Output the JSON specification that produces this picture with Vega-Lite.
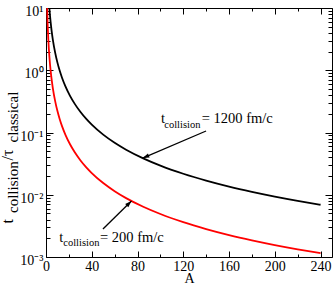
{
  "$schema": "https://vega.github.io/schema/vega-lite/v6.json",
  "width": 286,
  "height": 249,
  "autosize": {"type": "none"},
  "padding": {"left": 46, "top": 8, "right": 1, "bottom": 28},
  "background": "white",
  "config": {
    "view": {"stroke": null},
    "font": "Liberation Serif",
    "axis": {
      "grid": false,
      "domainColor": "black",
      "domainWidth": 1,
      "tickColor": "black",
      "tickWidth": 1,
      "labelColor": "black",
      "titleColor": "black",
      "labelFont": "Liberation Serif",
      "titleFont": "Liberation Serif",
      "titleFontWeight": "normal",
      "labelFlush": false,
      "labelOverlap": false
    }
  },
  "datasets": {
    "curves": [
      {"A": 1, "v": 59.7, "series": "1200"},
      {"A": 1.5, "v": 30.5, "series": "1200"},
      {"A": 2, "v": 19.0, "series": "1200"},
      {"A": 2.5, "v": 13.1, "series": "1200"},
      {"A": 3, "v": 9.71, "series": "1200"},
      {"A": 4, "v": 6.03, "series": "1200"},
      {"A": 5, "v": 4.17, "series": "1200"},
      {"A": 6, "v": 3.08, "series": "1200"},
      {"A": 8, "v": 1.917, "series": "1200"},
      {"A": 10, "v": 1.325, "series": "1200"},
      {"A": 12, "v": 0.98, "series": "1200"},
      {"A": 14, "v": 0.759, "series": "1200"},
      {"A": 17, "v": 0.551, "series": "1200"},
      {"A": 21, "v": 0.388, "series": "1200"},
      {"A": 25, "v": 0.291, "series": "1200"},
      {"A": 30, "v": 0.2153, "series": "1200"},
      {"A": 35, "v": 0.1669, "series": "1200"},
      {"A": 40, "v": 0.1338, "series": "1200"},
      {"A": 50, "v": 0.0925, "series": "1200"},
      {"A": 60, "v": 0.0684, "series": "1200"},
      {"A": 70, "v": 0.053, "series": "1200"},
      {"A": 85, "v": 0.03846, "series": "1200"},
      {"A": 100, "v": 0.02939, "series": "1200"},
      {"A": 120, "v": 0.02175, "series": "1200"},
      {"A": 140, "v": 0.01685, "series": "1200"},
      {"A": 160, "v": 0.0135, "series": "1200"},
      {"A": 180, "v": 0.01112, "series": "1200"},
      {"A": 200, "v": 0.00934, "series": "1200"},
      {"A": 220, "v": 0.00798, "series": "1200"},
      {"A": 240, "v": 0.00691, "series": "1200"},
      {"A": 1, "v": 9.95, "series": "200"},
      {"A": 1.5, "v": 5.08, "series": "200"},
      {"A": 2, "v": 3.17, "series": "200"},
      {"A": 2.5, "v": 2.18, "series": "200"},
      {"A": 3, "v": 1.62, "series": "200"},
      {"A": 4, "v": 1.005, "series": "200"},
      {"A": 5, "v": 0.695, "series": "200"},
      {"A": 6, "v": 0.513, "series": "200"},
      {"A": 8, "v": 0.3195, "series": "200"},
      {"A": 10, "v": 0.2208, "series": "200"},
      {"A": 12, "v": 0.1633, "series": "200"},
      {"A": 14, "v": 0.1265, "series": "200"},
      {"A": 17, "v": 0.0918, "series": "200"},
      {"A": 21, "v": 0.0647, "series": "200"},
      {"A": 25, "v": 0.0485, "series": "200"},
      {"A": 30, "v": 0.0359, "series": "200"},
      {"A": 35, "v": 0.0278, "series": "200"},
      {"A": 40, "v": 0.0223, "series": "200"},
      {"A": 50, "v": 0.0154, "series": "200"},
      {"A": 60, "v": 0.0114, "series": "200"},
      {"A": 70, "v": 0.00883, "series": "200"},
      {"A": 85, "v": 0.00641, "series": "200"},
      {"A": 100, "v": 0.0049, "series": "200"},
      {"A": 120, "v": 0.003625, "series": "200"},
      {"A": 140, "v": 0.00281, "series": "200"},
      {"A": 160, "v": 0.00225, "series": "200"},
      {"A": 180, "v": 0.001853, "series": "200"},
      {"A": 200, "v": 0.001557, "series": "200"},
      {"A": 220, "v": 0.00133, "series": "200"},
      {"A": 240, "v": 0.001152, "series": "200"}
    ],
    "arrows": [
      {"arrow": "1200", "A": 139.9, "v": 0.1057, "A2": 84.5, "v2": 0.0388},
      {"arrow": "200", "A": 49.8, "v": 0.00282, "A2": 74.7, "v2": 0.00795}
    ],
    "tips": [
      {"arrow": "1200", "A": 84.5, "v": 0.0388},
      {"arrow": "200", "A": 74.7, "v": 0.00795}
    ],
    "mainText": [
      {"A": 100.5, "v": 0.1437, "label": "t"},
      {"A": 136.1, "v": 0.1437, "label": "= 1200 fm/c"},
      {"A": 11.6, "v": 0.00176, "label": "t"},
      {"A": 47.2, "v": 0.00176, "label": "= 200 fm/c"}
    ],
    "subText": [
      {"A": 103.4, "v": 0.1168, "label": "collision"},
      {"A": 15.1, "v": 0.0015, "label": "collision"}
    ]
  },
  "resolve": {"axis": {"x": "independent", "y": "independent"}},
  "layer": [
    {
      "data": {"name": "curves"},
      "transform": [{"filter": "datum.series == '1200'"}],
      "mark": {"type": "line", "color": "black", "strokeWidth": 1.8, "clip": true, "interpolate": "monotone"},
      "encoding": {
        "x": {"field": "A", "type": "quantitative",
          "scale": {"type": "linear", "domain": [0, 250], "nice": false, "zero": false},
          "axis": {"orient": "bottom", "values": [0, 40, 80, 120, 160, 200, 240], "ticks": false, "domain": true,
            "labelFontSize": 14, "labelBaseline": "alphabetic", "labelPadding": 13.5,
            "title": "A", "titleFontSize": 14, "titleBaseline": "alphabetic", "titleX": 143, "titleY": 25.5, "titleAlign": "center"}},
        "y": {"field": "v", "type": "quantitative",
          "scale": {"type": "log", "domain": [0.001, 10], "nice": false},
          "axis": {"orient": "left", "values": [0.001, 0.01, 0.1, 1, 10], "ticks": false, "domain": true,
            "labelExpr": "datum.value > 5 ? '10¹' : datum.value > 0.5 ? '10⁰' : datum.value > 0.05 ? '10⁻¹' : datum.value > 0.005 ? '10⁻²' : '10⁻³'",
            "labelFontSize": 14, "labelBaseline": "alphabetic", "labelOffset": 7.5, "labelPadding": 3, "labelAlign": "right",
            "title": "t", "titleFontSize": 16, "titleAngle": 270, "titleAlign": "left", "titleBaseline": "alphabetic", "titleX": -34, "titleY": 215}}
      }
    },
    {
      "data": {"name": "curves"},
      "transform": [{"filter": "datum.series == '200'"}],
      "mark": {"type": "line", "color": "#ff0000", "strokeWidth": 1.8, "clip": true, "interpolate": "monotone"},
      "encoding": {
        "x": {"field": "A", "type": "quantitative",
          "axis": {"orient": "bottom", "values": [0, 40, 80, 120, 160, 200, 240], "tickSize": -6, "labels": false, "domain": false, "title": null}},
        "y": {"field": "v", "type": "quantitative",
          "axis": {"orient": "left", "values": [0.001, 0.01, 0.1, 1, 10], "tickSize": -7, "labels": false, "domain": false,
            "title": "collision", "titleFontSize": 15, "titleAngle": 270, "titleAlign": "left", "titleBaseline": "alphabetic", "titleX": -29, "titleY": 204.5}}
      }
    },
    {
      "data": {"name": "arrows"},
      "mark": {"type": "rule", "color": "black", "strokeWidth": 1.3},
      "encoding": {
        "x": {"field": "A", "type": "quantitative",
          "axis": {"orient": "top", "values": [0, 40, 80, 120, 160, 200, 240], "tickSize": -6, "labels": false, "domain": true, "title": null}},
        "y": {"field": "v", "type": "quantitative",
          "axis": {"orient": "left", "values": [0.002, 0.003, 0.004, 0.005, 0.006, 0.007, 0.008, 0.009, 0.02, 0.03, 0.04, 0.05, 0.06, 0.07, 0.08, 0.09, 0.2, 0.3, 0.4, 0.5, 0.6, 0.7, 0.8, 0.9, 2, 3, 4, 5, 6, 7, 8, 9],
            "tickSize": -4, "labels": false, "domain": false,
            "title": "/τ", "titleFontSize": 16, "titleAngle": 270, "titleAlign": "left", "titleBaseline": "alphabetic", "titleX": -34, "titleY": 152}},
        "x2": {"field": "A2"},
        "y2": {"field": "v2"}
      }
    },
    {
      "data": {"name": "tips"},
      "transform": [{"filter": "datum.arrow == '1200'"}],
      "mark": {"type": "point", "shape": "M0,0L0.6,1.8L-0.6,1.8Z", "size": 55, "angle": 247, "filled": true, "color": "black", "opacity": 1},
      "encoding": {
        "x": {"field": "A", "type": "quantitative",
          "axis": {"orient": "top", "values": [20, 60, 100, 140, 180, 220], "tickSize": -3, "labels": false, "domain": false, "title": null}},
        "y": {"field": "v", "type": "quantitative",
          "axis": {"orient": "left", "ticks": false, "labels": false, "domain": false,
            "title": "classical", "titleFontSize": 15, "titleAngle": 270, "titleAlign": "left", "titleBaseline": "alphabetic", "titleX": -29, "titleY": 134}}
      }
    },
    {
      "data": {"name": "tips"},
      "transform": [{"filter": "datum.arrow == '200'"}],
      "mark": {"type": "point", "shape": "M0,0L0.6,1.8L-0.6,1.8Z", "size": 55, "angle": 45, "filled": true, "color": "black", "opacity": 1},
      "encoding": {
        "x": {"field": "A", "type": "quantitative", "axis": null},
        "y": {"field": "v", "type": "quantitative", "axis": null}
      }
    },
    {
      "data": {"name": "mainText"},
      "mark": {"type": "text", "font": "Liberation Serif", "fontSize": 14.5, "align": "left", "baseline": "alphabetic", "color": "black"},
      "encoding": {
        "x": {"field": "A", "type": "quantitative",
          "axis": {"orient": "bottom", "values": [20, 60, 100, 140, 180, 220], "tickSize": -3, "labels": false, "domain": false, "title": null}},
        "y": {"field": "v", "type": "quantitative",
          "axis": {"orient": "right", "values": [0.001, 0.01, 0.1, 1, 10], "tickSize": -7, "labels": false, "domain": true, "title": null}},
        "text": {"field": "label"}
      }
    },
    {
      "data": {"name": "subText"},
      "mark": {"type": "text", "font": "Liberation Serif", "fontSize": 10.5, "align": "left", "baseline": "alphabetic", "color": "black"},
      "encoding": {
        "x": {"field": "A", "type": "quantitative", "axis": null},
        "y": {"field": "v", "type": "quantitative",
          "axis": {"orient": "right", "values": [0.002, 0.003, 0.004, 0.005, 0.006, 0.007, 0.008, 0.009, 0.02, 0.03, 0.04, 0.05, 0.06, 0.07, 0.08, 0.09, 0.2, 0.3, 0.4, 0.5, 0.6, 0.7, 0.8, 0.9, 2, 3, 4, 5, 6, 7, 8, 9],
            "tickSize": -4, "labels": false, "domain": false, "title": null}},
        "text": {"field": "label"}
      }
    }
  ]
}
